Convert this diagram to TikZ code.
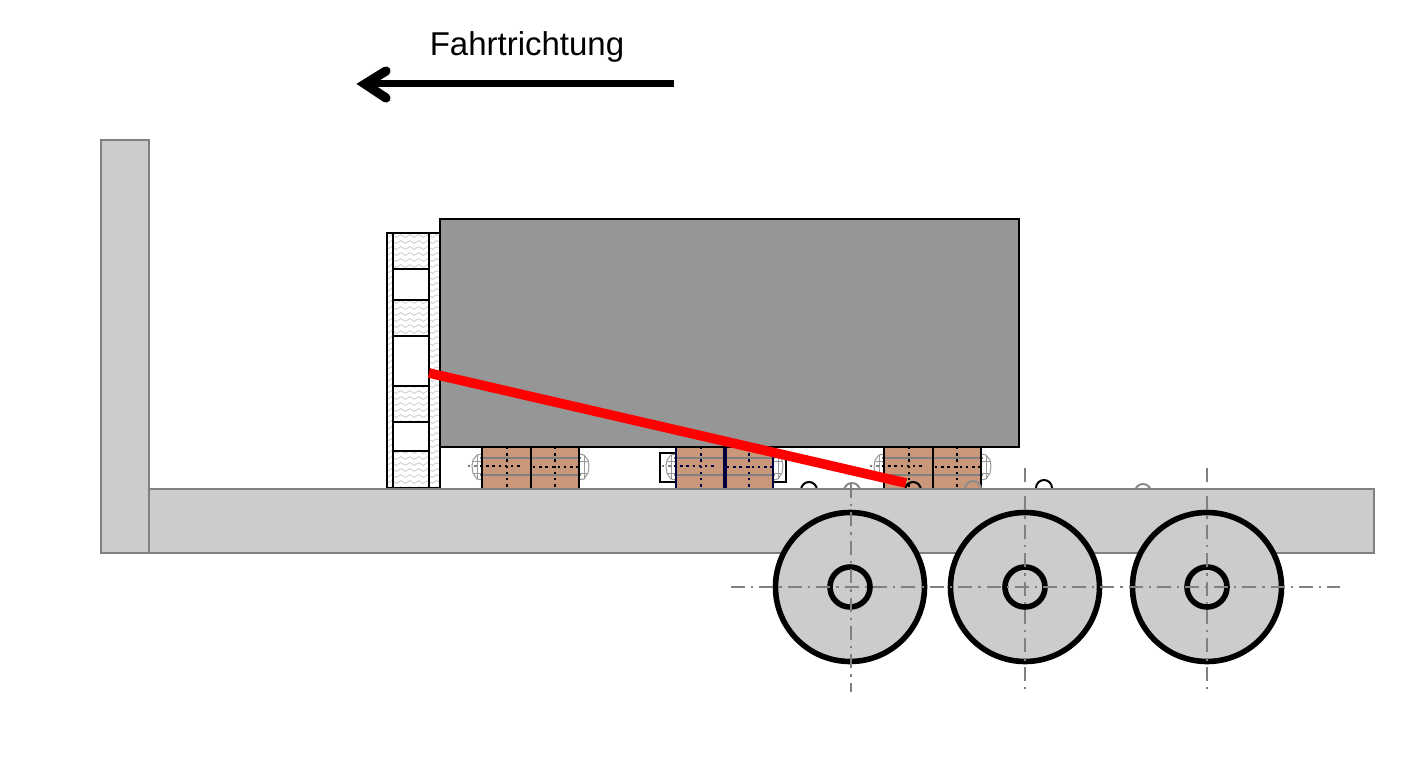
\documentclass[tikz,border=0pt]{standalone}
\usepackage{fontspec}
\setmainfont{Liberation Sans}
\usetikzlibrary{decorations.pathmorphing}

\begin{document}
\begin{tikzpicture}[
  x=0.5pt, y=-0.5pt,
  steel/.style={draw=black!50, fill=black!20, line width=1.1pt},
  cargo/.style={draw=black, fill=black!41, line width=1.1pt},
  wood/.style={fill=brown1},
  cell/.style={draw=black, line width=1.2pt},
  wave/.style={draw=black!22, line width=0.35pt, decorate, decoration={snake, amplitude=0.7pt, segment length=4.5pt}},
  wheel/.style={draw=black, fill=black!20, line width=2.8pt},
  axisline/.style={draw=black!50, line width=1pt, dash pattern=on 7pt off 3pt on 1.2pt off 3pt},
  rod/.style={draw=black!50, line width=0.8pt},
  dots/.style={line width=1.1pt, dash pattern=on 1.2pt off 1.9pt},
  bump/.style={draw=black, line width=1pt},
  bumpgray/.style={draw=black!45, line width=1pt},
  bolt/.style={draw=black!40, fill=white, line width=0.5pt},
  dir/.style={line width=3.5pt},
  dirhead/.style={line width=4.6pt, line cap=round, miter limit=10}
]
\definecolor{brown1}{RGB}{201,152,122}
\path[use as bounding box, fill=white] (0,0) rectangle (1409,765);

% wavy infill of the dunnage
\foreach \xa/\ya/\xb/\yb in {387/233/393/488, 429/233/440/488, 393/233/429/269, 393/300/429/336, 393/386/429/422, 393/451/429/488} {
  \begin{scope}
    \clip (\xa,\ya) rectangle (\xb,\yb);
    \foreach \yy in {236,242,...,490}
      \draw[wave] (380,\yy) -- (445,\yy);
  \end{scope}
}
\draw[cell] (387,233) rectangle (440,488);
\draw[cell] (393,233) -- (393,488);
\draw[cell] (429,233) -- (429,488);
\foreach \yy in {269,300,336,386,422,451}
  \draw[cell] (393,\yy) -- (429,\yy);

% blocks with bolts
\draw[cell] (660,453) rectangle (786,482);
\foreach \bx/\lc/\mw in {482/black/1.2pt, 676/blue!25!black/2pt, 884/black/1.2pt} {
  \begin{scope}[shift={(\bx,0)}]
    \fill[wood] (0,447) rectangle (97,489);
    \foreach \ox/\sx in {0/1, 97/-1} {
      \begin{scope}[shift={(\ox,0)}, xscale=\sx]
        \draw[bolt] (0,454) -- (-5,455) -- (-9,460) -- (-10,466) -- (-9,473) -- (-5,479) -- (0,480) -- cycle;
        \draw[bolt] (-5,455) -- (-5,479);
        \draw[bolt] (-9,461) -- (0,461);
        \draw[bolt] (-9,473) -- (0,473);
      \end{scope}
    }
    \draw[rod] (-2,458) -- (99,458);
    \draw[rod] (-2,475) -- (99,475);
    \draw[rod, dots, line width=0.8pt] (-14,466) -- (-4,466);
    \draw[\lc, dots] (25,447) -- (25,489);
    \draw[\lc, dots] (73,447) -- (73,489);
    \draw[\lc, dots] (-2,466) -- (41,466);
    \draw[\lc, dots] (51,467) -- (97,467);
    \draw[\lc, line width=1.2pt] (0,447) -- (0,489);
    \draw[\lc, line width=\mw] (49,447) -- (49,489);
    \draw[\lc, line width=1.2pt] (97,447) -- (97,489);
  \end{scope}
}

% bumps on the deck
\foreach \cx/\cy in {809/490, 913/490, 1044/488}
  \draw[bump] (\cx,\cy) circle (8);
\foreach \cx/\cy in {852/491, 973/489, 1143/492}
  \draw[bumpgray] (\cx,\cy) circle (8);

\draw[steel] (101,140) rectangle (149,553);
\draw[steel] (149,489) rectangle (1374,553);
\draw[cargo] (440,219) rectangle (1019,447);

\foreach \cx in {850,1025,1207} {
  \draw[wheel] (\cx,587) circle (74.5);
  \draw[wheel] (\cx,587) circle (20);
}
\draw[axisline] (731,587) -- (1340,587);
\draw[axisline] (851,484) -- (851,692);
\draw[axisline] (1025,468) -- (1025,692);
\draw[axisline] (1207,468) -- (1207,692);

\draw[red, line width=4.8pt] (429,373) -- (906,483);

\node[font=\fontsize{16.5}{20}\selectfont] (title) at (527,47) {Fahrtrichtung};
\coordinate (dirstart) at (674,84);
\coordinate (dirend) at (365,84);
\draw[dir] (dirstart) -- (dirend);
\draw[dirhead] (386,71) -- (dirend) -- (386,98);
\end{tikzpicture}
\end{document}
